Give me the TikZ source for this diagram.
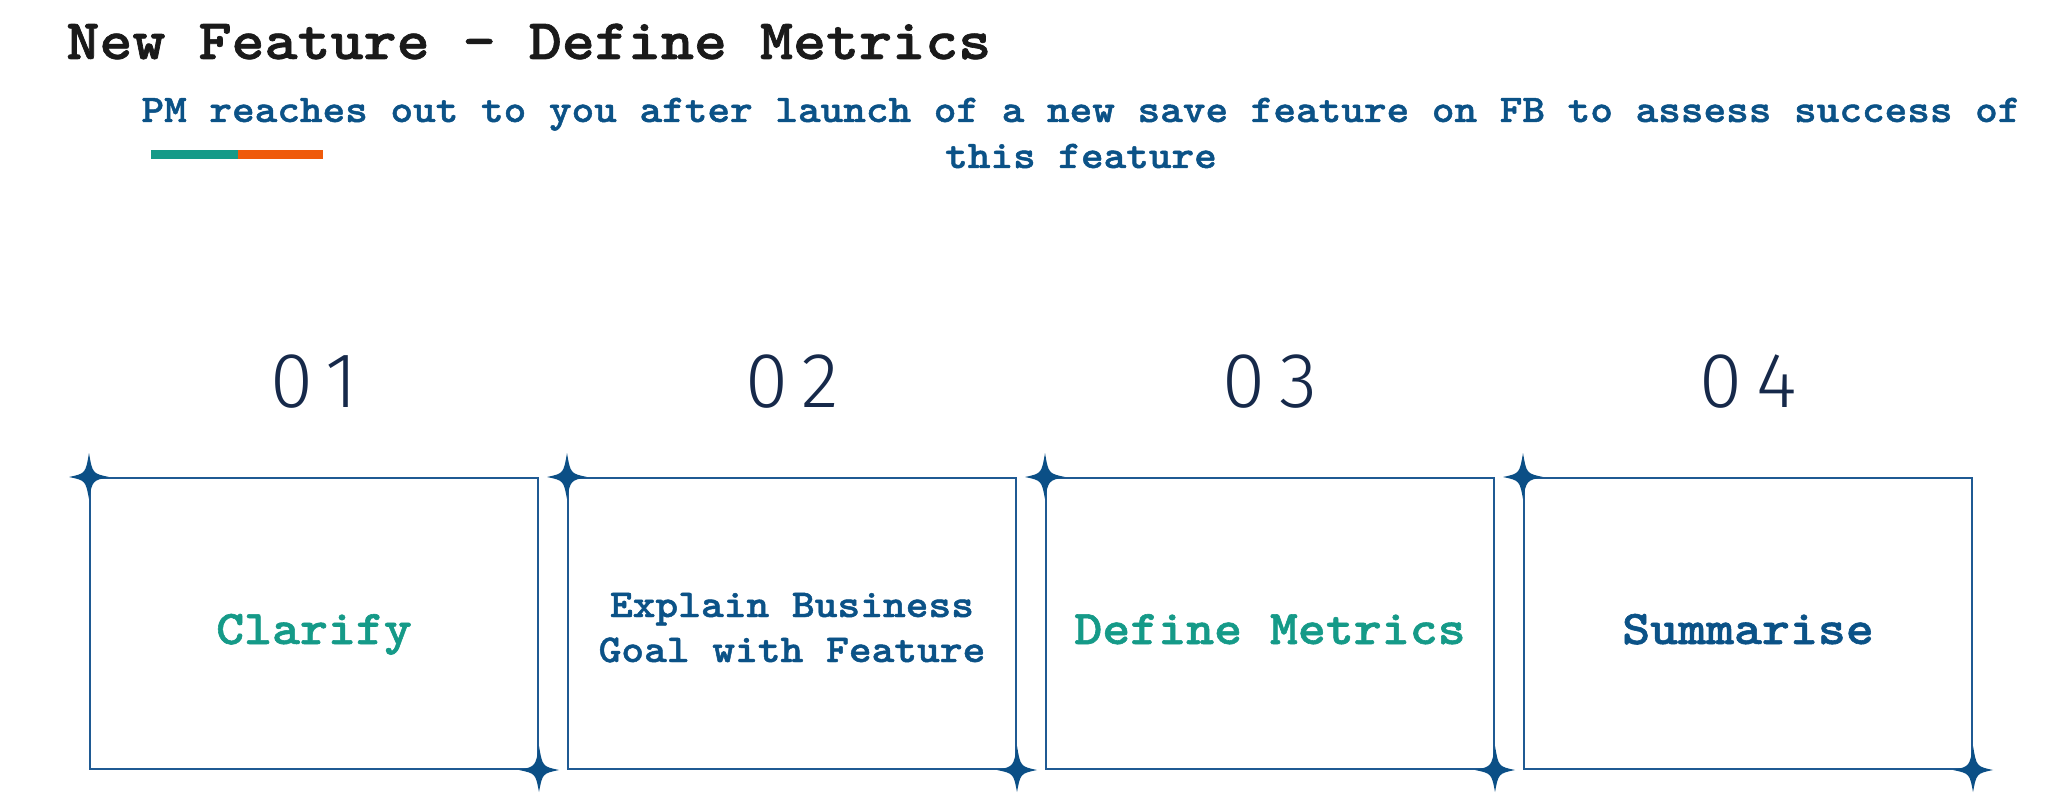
\documentclass[tikz,border=0pt]{standalone}
\usepackage{fontspec}
\newfontfamily\cour{lmmonolt10-bold.otf}[FakeStretch=1.1,FakeBold=1.2]
\newfontfamily\numfont{Fira Sans Light}
\definecolor{titlecol}{HTML}{1A1A1A}
\definecolor{bluecol}{HTML}{0B5287}
\definecolor{tealcol}{HTML}{159A88}
\definecolor{orangecol}{HTML}{EF5A0A}
\definecolor{navycol}{HTML}{16294A}
\definecolor{boxcol}{HTML}{1F5A93}
\definecolor{starcol}{HTML}{0B4F86}
\tikzset{
  stepcard/.style={draw=boxcol, line width=1pt, minimum width=224pt, minimum height=145.5pt, inner sep=0pt},
  numlabel/.style={anchor=base, text=navycol, font=\numfont\fontsize{39pt}{44pt}\selectfont, inner sep=0pt},
  cardtext/.style={anchor=base, font=\cour\fontsize{24.2pt}{28pt}\selectfont, inner sep=0pt},
  cardtextsmall/.style={anchor=base, font=\cour\fontsize{19.7pt}{23pt}\selectfont, inner sep=0pt, text=bluecol},
  subtext/.style={anchor=base, text=bluecol, font=\cour\fontsize{19.6pt}{23pt}\selectfont, inner sep=0pt},
}
\newcommand{\spark}[1]{%
  \fill[starcol] ($(#1)+(0,-24)$) .. controls ($(#1)+(3.5,-3.5)$) .. ($(#1)+(20,0)$)
    .. controls ($(#1)+(3.5,3.5)$) .. ($(#1)+(0,22)$)
    .. controls ($(#1)+(-3.5,3.5)$) .. ($(#1)+(-20,0)$)
    .. controls ($(#1)+(-3.5,-3.5)$) .. cycle;}
\usetikzlibrary{calc}
\begin{document}
\begin{tikzpicture}[x=0.5pt,y=-0.5pt]
\useasboundingbox[fill=white] (0,0) rectangle (2048,807);
\node[anchor=base west, inner sep=0pt, text=titlecol, font=\cour\fontsize{28.6pt}{32pt}\selectfont] (title) at (66,59) {New Feature - Define Metrics};
\node[subtext] (sub1) at (1081,122) {PM reaches out to you after launch of a new save feature on FB to assess success of};
\node[subtext] (sub2) at (1081,168) {this feature};
\fill[tealcol] (151,150) rectangle (238,159);
\fill[orangecol] (238,150) rectangle (323,159);
\foreach \i/\n in {1/01,2/02,3/03,4/04}{
  \pgfmathsetmacro{\cx}{314+(\i-1)*478}
  \node[numlabel] (num\i) at (\cx,407) {\addfontfeature{LetterSpace=18}\n};
  \node[stepcard] (card\i) at (\cx,623.5) {};
}
\node[cardtext, text=tealcol] (t1) at (card1.center |- 0,644) {Clarify};
\node[cardtextsmall] (t2a) at (card2.center |- 0,617) {Explain Business};
\node[cardtextsmall] (t2b) at (card2.center |- 0,662) {Goal with Feature};
\node[cardtext, text=tealcol] (t3) at (card3.center |- 0,644) {Define Metrics};
\node[cardtext, text=bluecol] (t4) at (card4.center |- 0,644) {Summarise};
\foreach \i in {1,2,3,4}{
  \spark{card\i.north west}
  \spark{card\i.south east}
}
\end{tikzpicture}
\end{document}
